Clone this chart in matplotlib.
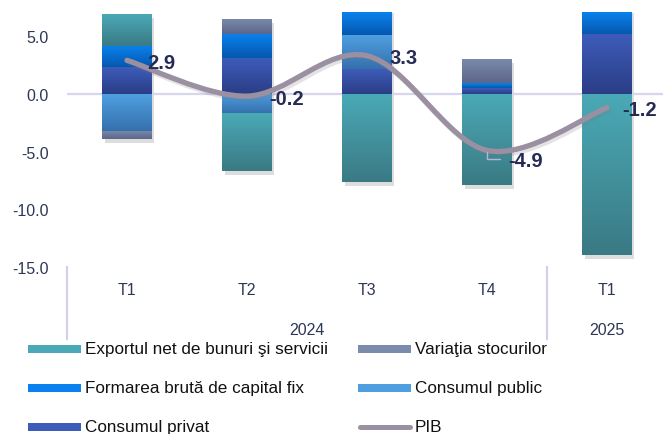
import numpy as np
import matplotlib.pyplot as plt
import matplotlib.patheffects as pe
import matplotlib.transforms as mtransforms
from matplotlib.colors import LinearSegmentedColormap
from matplotlib.patches import PathPatch, Rectangle
from matplotlib.path import Path

plt.rcParams["font.family"] = ["Liberation Sans", "DejaVu Sans"]

# data (contributions to GDP growth, pp)
quarters = ["T1", "T2", "T3", "T4", "T1"]
years = ["2024", "2025"]
year_centers = [1.5, 4.0]

consum_privat = [2.29, 3.09, 2.14, 0.49, 5.17]
consum_public = [-3.20, -1.67, 2.94, 0.0, 0.0]
formarea_bruta = [1.87, 2.08, 5.84, 0.43, 7.57]
variatia_stoc = [-0.72, 1.30, 0.0, 2.08, 0.0]
export_net = [2.74, -5.00, -7.62, -7.88, -13.94]
pib = [2.9, -0.2, 3.3, -4.9, -1.2]

# stacking order (from zero outwards) with (bottom, top) gradient colours
series = [
    ("Consumul privat", consum_privat, ("#2b3d86", "#3d5cb9")),
    ("Consumul public", consum_public, ("#3570ad", "#4f9fe0")),
    ("Formarea brută de capital fix", formarea_bruta, ("#0558ae", "#0a82ee")),
    ("Variaţia stocurilor", variatia_stoc, ("#5c6688", "#7b8bab")),
    ("Exportul net de bunuri şi servicii", export_net, ("#3a7a84", "#4aa9b6")),
]
line_color = "#9b90a2"
text_color = "#2e3658"
label_color = "#262b56"
grid_color = "#d6d6ee"

ymin, ymax = -15, 7
grad = np.linspace(0, 1, 64).reshape(-1, 1)

fig = plt.figure(figsize=(6.63, 4.35), dpi=100)
ax = fig.add_axes([67 / 663, 1 - 268 / 435, 600 / 663, 254 / 435])
ax.set_xlim(-0.5, 4.5)
ax.set_ylim(ymin, ymax)

x = np.arange(len(quarters))
width = 0.41

# shadow envelope
pos_tot = np.sum([np.clip(s[1], 0, None) for s in series], axis=0)
neg_tot = np.sum([np.clip(s[1], None, 0) for s in series], axis=0)
env = ax.bar(x, pos_tot - neg_tot, width, bottom=neg_tot, facecolor="none",
             edgecolor="none", zorder=1.5)
for b in env:
    b.set_path_effects([pe.SimplePatchShadow(offset=(2, -3), shadow_rgbFace="#909090", alpha=0.3)])

pos_base = np.zeros(len(x))
neg_base = np.zeros(len(x))
for name, vals, (c_lo, c_hi) in series:
    vals = np.array(vals, dtype=float)
    bottoms = np.where(vals >= 0, pos_base, neg_base)
    bars = ax.bar(x, vals, width, bottom=bottoms, color=c_hi, linewidth=0, zorder=2)
    cmap = LinearSegmentedColormap.from_list(name, [c_lo, c_hi])
    for bar in bars:
        y0 = bar.get_y()
        lo, hi = sorted((y0, y0 + bar.get_height()))
        lo, hi = max(lo, ymin), min(hi, ymax)
        if hi - lo <= 0:
            continue
        x0 = bar.get_x()
        im = ax.imshow(grad, extent=(x0, x0 + bar.get_width(), lo, hi), origin="lower",
                       aspect="auto", cmap=cmap, interpolation="bicubic", zorder=2.1)
        im.set_clip_path(bar)
    pos_base += np.clip(vals, 0, None)
    neg_base += np.clip(vals, None, 0)

ax.set_xlim(-0.5, 4.5)
ax.set_ylim(ymin, ymax)

ax.axhline(0, color=grid_color, lw=1.6, zorder=1.8)

# smoothed PIB line (bezier through the points)
pts = np.column_stack([x, pib]).astype(float)
verts = [pts[0]]
codes = [Path.MOVETO]
for i in range(len(pts) - 1):
    p_prev = pts[i - 1] if i > 0 else pts[i]
    p_next = pts[i + 2] if i + 2 < len(pts) else pts[i + 1]
    verts += [pts[i] + (pts[i + 1] - p_prev) / 6, pts[i + 1] - (p_next - pts[i]) / 6, pts[i + 1]]
    codes += [Path.CURVE4] * 3
line = PathPatch(Path(verts, codes), facecolor="none", edgecolor=line_color, lw=3.8,
                 capstyle="round", joinstyle="round", zorder=4)
line.set_path_effects([pe.SimpleLineShadow(offset=(1.5, -2), shadow_color="#777777", alpha=0.2),
                       pe.Normal()])
ax.add_patch(line)

# value labels
offsets = [(20, -2), (22, -2), (22, -1.5), (21, -10.5), (15, -1.5)]
for xi, v, off in zip(x, pib, offsets):
    kw = {}
    if v == -4.9:
        kw["arrowprops"] = dict(arrowstyle="-", color="#b4b4dc", lw=1.0, relpos=(0, 0.6),
                                connectionstyle="angle,angleA=0,angleB=90,rad=0",
                                shrinkA=4, shrinkB=1)
    ax.annotate(f"{v:.1f}", xy=(xi, v), xytext=off, textcoords="offset pixels",
                ha="left", va="center", fontsize=14.5, fontweight="bold",
                color=label_color, zorder=5, **kw)

# axes styling
for sp in ax.spines.values():
    sp.set_visible(False)
ax.set_yticks([-15, -10, -5, 0, 5])
ax.set_yticklabels([f"{t:.1f}" for t in [-15, -10, -5, 0, 5]])
ax.tick_params(axis="y", length=0, pad=13, labelsize=11.5, labelcolor=text_color)
ax.set_xticks(x)
ax.set_xticklabels(quarters)
ax.tick_params(axis="x", length=0, pad=11, labelsize=11.5, labelcolor=text_color)

trans = mtransforms.blended_transform_factory(ax.transData, ax.transAxes)
for xc, yr in zip(year_centers, years):
    ax.text(xc, -0.264, yr, transform=trans, ha="center", va="baseline",
            fontsize=11.5, color=text_color)
for xs in [-0.5, 3.5]:
    ax.plot([xs, xs], [0, -0.283], transform=trans, color="#d0d0ea", lw=1.5, clip_on=False)

# legend drawn in pixel space
lg = fig.add_axes([0, 0, 1, 100 / 435])
lg.set_xlim(0, 663)
lg.set_ylim(435, 335)
lg.axis("off")
by_name = {s[0]: s[2] for s in series}
legend_items = [
    ("Exportul net de bunuri şi servicii", 28, 350),
    ("Variaţia stocurilor", 358, 350),
    ("Formarea brută de capital fix", 28, 389),
    ("Consumul public", 358, 389),
    ("Consumul privat", 28, 428),
]
for name, lx, ly in legend_items:
    c_lo, c_hi = by_name[name]
    rect = Rectangle((lx, ly - 4), 53, 8, facecolor=c_hi, edgecolor="none")
    lg.add_patch(rect)
    im = lg.imshow(grad, extent=(lx, lx + 53, ly + 4, ly - 4), origin="lower", aspect="auto",
                   cmap=LinearSegmentedColormap.from_list(name, [c_lo, c_hi]))
    im.set_clip_path(rect)
    lg.text(lx + 57, ly, name, ha="left", va="center", fontsize=12.3, color="#111111")
lg.plot([360, 410], [428, 428], color=line_color, lw=3.6, solid_capstyle="round")
lg.text(415, 428, "PIB", ha="left", va="center", fontsize=12.3, color="#111111")
lg.set_xlim(0, 663)
lg.set_ylim(435, 335)

fig.savefig("out.png", dpi=100)
